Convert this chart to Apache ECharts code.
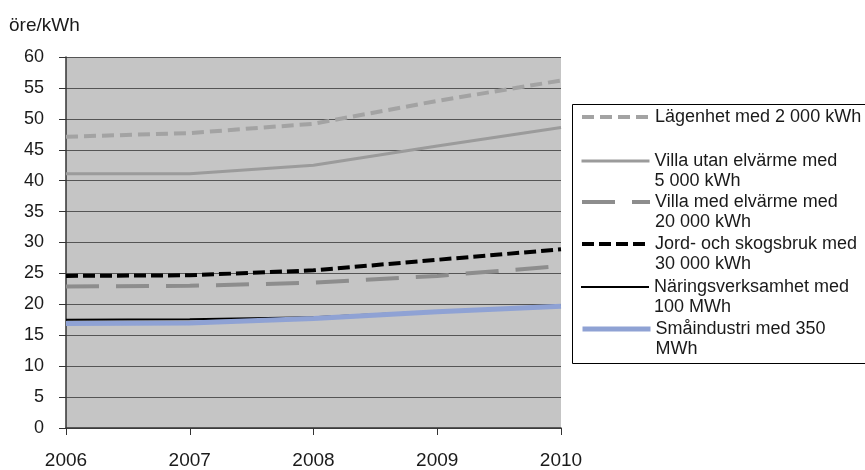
<!DOCTYPE html>
<html>
<head>
<meta charset="utf-8">
<script src="https://cdn.jsdelivr.net/npm/echarts@6/dist/echarts.min.js"></script>
<style>
html,body{margin:0;padding:0;background:#fff;}
#c{width:865px;height:470px;}
</style>
</head>
<body>
<div id="c"></div>
<script>
var years = ['2006', '2007', '2008', '2009', '2010'];
var yTicks = [0, 5, 10, 15, 20, 25, 30, 35, 40, 45, 50, 55, 60];
var names = [
  'Lägenhet med 2 000 kWh',
  'Villa utan elvärme med\n5 000 kWh',
  'Villa med elvärme med\n20 000 kWh',
  'Jord- och skogsbruk med\n30 000 kWh',
  'Näringsverksamhet med\n100 MWh',
  'Småindustri med 350\nMWh'
];
var lagenhet = [47.1, 47.7, 49.2, 52.9, 56.2];
var villaUtan = [41.1, 41.1, 42.5, 45.6, 48.6];
var villaMed = [22.9, 23.0, 23.5, 24.6, 26.2];
var jord = [24.6, 24.7, 25.5, 27.2, 28.9];
var naring = [17.5, 17.6, 17.9, 18.9, 19.7];
var smaindustri = [16.9, 17.0, 17.7, 18.8, 19.7];

var seriesData = [lagenhet, villaUtan, villaMed, jord, naring, smaindustri];
var styles = [
  {color: '#a3a3a3', width: 4, type: [12, 6], z: 3},
  {color: '#9b9b9b', width: 3, type: 'solid', z: 3},
  {color: '#8d8d8d', width: 4, type: [33, 17], z: 3},
  {color: '#000000', width: 4, type: [12, 5], z: 4},
  {color: '#000000', width: 2, type: 'solid', z: 4},
  {color: '#8fa2d4', width: 5, type: 'solid', z: 5}
];
var legendCenters = [117, 161, 202, 244, 287, 329];
var FONT = 'Liberation Sans, Arial, sans-serif';

var chart = echarts.init(document.getElementById('c'), null, {renderer: 'canvas'});

var series = seriesData.map(function (d, i) {
  return {
    name: names[i],
    type: 'line',
    data: d,
    symbol: 'none',
    smooth: false,
    z: styles[i].z,
    lineStyle: {color: styles[i].color, width: styles[i].width, type: styles[i].type},
    itemStyle: {color: styles[i].color}
  };
});

var legends = names.map(function (n, i) {
  var twoLine = n.indexOf('\n') >= 0;
  var lh = 20.5;
  var blockH = twoLine ? lh * 3 : lh;
  return {
    data: [n],
    left: 580,
    top: legendCenters[i] - blockH / 2,
    orient: 'vertical',
    itemWidth: 68,
    itemHeight: 14,
    padding: 0,
    selectedMode: false,
    formatter: function (name) { return name.indexOf('\n') >= 0 ? ' \n' + name : name; },
    textStyle: {fontFamily: FONT, fontSize: 18, color: '#1a1a1a', lineHeight: lh},
    lineStyle: {width: 'inherit', type: 'inherit'},
    itemStyle: {opacity: 0},
    z: 10
  };
});

chart.setOption({
  animation: false,
  backgroundColor: '#ffffff',
  graphic: [{
    type: 'rect',
    left: 572, top: 104,
    shape: {width: 300, height: 259},
    style: {fill: '#ffffff', stroke: '#000000', lineWidth: 1},
    z: 0
  }],
  grid: {
    left: 66, right: 304, top: 57, bottom: 42,
    show: true, backgroundColor: '#c5c5c5', borderWidth: 0
  },
  legend: legends,
  xAxis: {
    type: 'category',
    data: years,
    boundaryGap: false,
    axisLine: {lineStyle: {color: '#333', width: 1.5}},
    axisTick: {show: true, length: 7, lineStyle: {color: '#333'}},
    axisLabel: {fontFamily: FONT, fontSize: 19, color: '#1a1a1a', margin: 23}
  },
  yAxis: {
    type: 'value',
    min: yTicks[0], max: yTicks[yTicks.length - 1], interval: 5,
    name: 'öre/kWh',
    nameLocation: 'end',
    nameGap: 22,
    nameTextStyle: {fontFamily: FONT, fontSize: 19, color: '#1a1a1a', align: 'left', padding: [0, 0, 0, -57]},
    axisLine: {show: true, lineStyle: {color: '#333', width: 1.5}},
    axisTick: {show: true, length: 7, lineStyle: {color: '#333'}},
    axisLabel: {fontFamily: FONT, fontSize: 18, color: '#1a1a1a', margin: 22},
    splitLine: {show: true, lineStyle: {color: '#555555', width: 1}}
  },
  series: series
});
</script>
</body>
</html>
